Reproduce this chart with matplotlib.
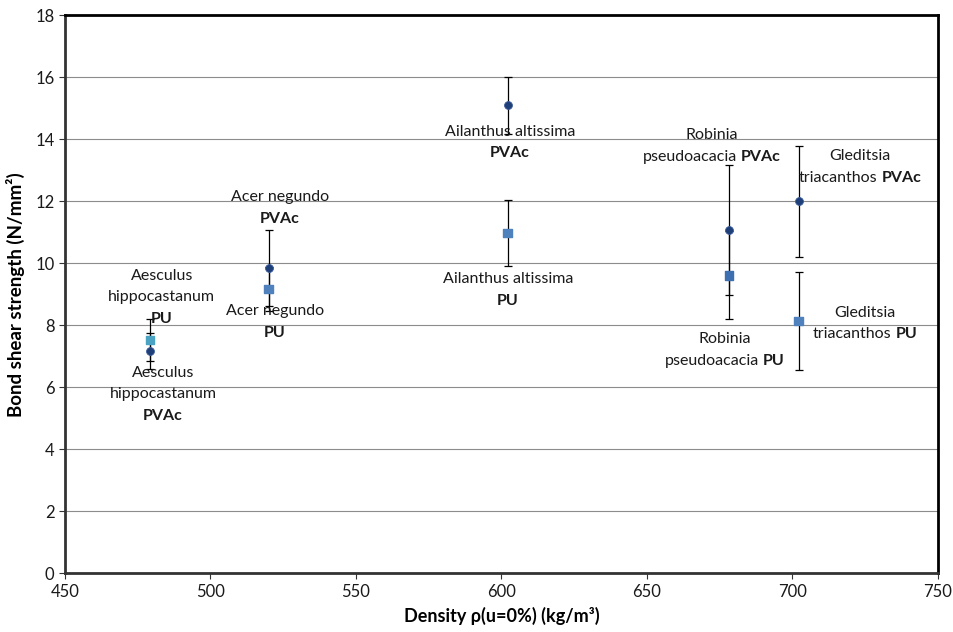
import matplotlib
matplotlib.use("Agg")
import matplotlib.pyplot as plt
from matplotlib.offsetbox import TextArea, HPacker, VPacker, AnnotationBbox

plt.rcParams["font.family"] = ["Lato", "DejaVu Sans"]

# species densities (kg/m3)
species = ["Aesculus hippocastanum", "Acer negundo", "Ailanthus altissima",
           "Robinia pseudoacacia", "Gleditsia triacanthos"]
density = [479.2, 520.0, 602.2, 678.2, 702.2]

# bond shear strength (N/mm2) and standard deviations
pvac_mean = [7.16, 9.84, 15.10, 11.06, 12.00]
pvac_err = [0.58, 1.22, 0.92, 2.10, 1.79]
pu_mean = [7.52, 9.17, 10.97, 9.61, 8.13]
pu_err = [0.67, 0.70, 1.07, 1.42, 1.58]

# label anchors (data coords) + lines of (text, bold)
labels = [
    (483.3, 8.9, [[("Aesculus", False)], [("hippocastanum", False)], [("PU", True)]]),
    (483.7, 5.77, [[("Aesculus", False)], [("hippocastanum", False)], [("PVAc", True)]]),
    (523.9, 11.77, [[("Acer negundo", False)], [("PVAc", True)]]),
    (522.2, 8.11, [[("Acer negundo", False)], [("PU", True)]]),
    (602.9, 13.89, [[("Ailanthus altissima", False)], [("PVAc", True)]]),
    (602.2, 9.13, [[("Ailanthus altissima", False)], [("PU", True)]]),
    (672.3, 13.79, [[("Robinia", False)], [("pseudoacacia", False), ("PVAc", True)]]),
    (676.8, 7.19, [[("Robinia", False)], [("pseudoacacia", False), ("PU", True)]]),
    (723.2, 13.1, [[("Gleditsia", False)], [("triacanthos", False), ("PVAc", True)]]),
    (725.0, 8.05, [[("Gleditsia", False)], [("triacanthos", False), ("PU", True)]]),
]

fig = plt.figure(figsize=(9.54, 6.32), dpi=100)
ax = fig.add_axes([0.068, 0.093, 0.915, 0.883])

ax.errorbar(density, pvac_mean, yerr=pvac_err, fmt="none", ecolor="black",
            elinewidth=0.9, capsize=3, capthick=0.9, zorder=3)
ax.errorbar(density, pu_mean, yerr=pu_err, fmt="none", ecolor="black",
            elinewidth=0.9, capsize=3, capthick=0.9, zorder=3)
ax.scatter(density, pvac_mean, marker="o", s=32, color="#1F3F78",
           edgecolors="#3A5A9A", linewidths=0.6, zorder=4)
sq_colors = ["#4BA3C3", "#4F81BD", "#4F81BD", "#3E6FB0", "#4F81BD"]
ax.scatter(density, pu_mean, marker="s", s=38, color=sq_colors, zorder=4)

for x, y, lines in labels:
    rows = []
    for parts in lines:
        items = [TextArea(t, textprops=dict(fontsize=11.5, color="#1a1a1a",
                                            fontweight="bold" if b else "normal"))
                 for t, b in parts]
        rows.append(HPacker(children=items, align="baseline", pad=0, sep=3))
    box = VPacker(children=rows, align="center", pad=0, sep=5.5)
    ab = AnnotationBbox(box, (x, y), frameon=False, box_alignment=(0.5, 0.5),
                        zorder=5)
    ax.add_artist(ab)

ax.set_xlim(450, 750)
ax.set_ylim(0, 18)
ax.set_xticks(range(450, 751, 50))
ax.set_yticks(range(0, 19, 2))
ax.yaxis.grid(True, color="#8c8c8c", linewidth=0.8)
ax.set_axisbelow(True)
for side in ["top", "right"]:
    ax.spines[side].set_linewidth(2)
    ax.spines[side].set_color("black")
for side in ["left", "bottom"]:
    ax.spines[side].set_linewidth(2)
    ax.spines[side].set_color("#333333")
ax.tick_params(axis="both", labelsize=12, colors="#333333", length=4,
               width=0.8, direction="out")
ax.tick_params(axis="both", labelcolor="#1a1a1a")

ax.set_xlabel("Density ρ(u=0%) (kg/m³)", fontsize=13, fontweight="bold",
              labelpad=5)
ax.set_ylabel("Bond shear strength (N/mm²)", fontsize=13.5, fontweight="bold",
              labelpad=7)

fig.savefig("out.png", dpi=100)
